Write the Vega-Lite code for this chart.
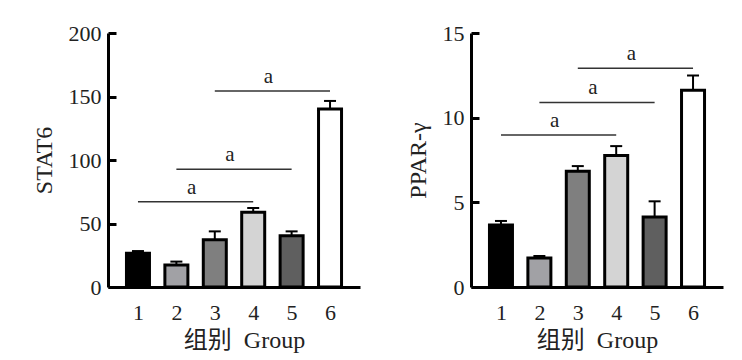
{
  "$schema": "https://vega.github.io/schema/vega-lite/v6.json",
  "background": "white",
  "padding": {"left": 32, "top": 22, "right": 5, "bottom": 5},
  "spacing": 46,
  "datasets": {
    "stat6": [
      {"group": 1, "mean": 26.5, "upper": 28.3},
      {"group": 2, "mean": 17.3, "upper": 20.0},
      {"group": 3, "mean": 37.2, "upper": 43.8},
      {"group": 4, "mean": 58.8, "upper": 62.2},
      {"group": 5, "mean": 40.4, "upper": 43.8},
      {"group": 6, "mean": 140.2, "upper": 146.5}
    ],
    "ppar": [
      {"group": 1, "mean": 3.66, "upper": 3.9},
      {"group": 2, "mean": 1.71, "upper": 1.83},
      {"group": 3, "mean": 6.84, "upper": 7.14},
      {"group": 4, "mean": 7.77, "upper": 8.32},
      {"group": 5, "mean": 4.13, "upper": 5.06},
      {"group": 6, "mean": 11.62, "upper": 12.49}
    ],
    "sigStat": [
      {"from": 1, "to": 4, "mid": 2.5, "y": 67.2, "label": "a"},
      {"from": 2, "to": 5, "mid": 3.5, "y": 92.7, "label": "a"},
      {"from": 3, "to": 6, "mid": 4.5, "y": 154.3, "label": "a"}
    ],
    "sigPpar": [
      {"from": 1, "to": 4, "mid": 2.5, "y": 8.97, "label": "a"},
      {"from": 2, "to": 5, "mid": 3.5, "y": 10.9, "label": "a"},
      {"from": 3, "to": 6, "mid": 4.5, "y": 12.92, "label": "a"}
    ]
  },
  "hconcat": [
    {
      "width": 252,
      "height": 254,
      "layer": [
        {
          "data": {"name": "stat6"},
          "mark": {"type": "rule", "strokeWidth": 2, "color": "black"},
          "encoding": {
            "x": {"field": "group", "type": "quantitative", "scale": {"domain": [0.35, 6.65], "nice": false, "zero": false},
              "axis": {"values": [1, 2, 3, 4, 5, 6], "ticks": false, "labelPadding": 15, "title": "组别\u00a0\u00a0Group", "titlePadding": 5, "titleX": 136}},
            "y": {"field": "mean", "type": "quantitative", "scale": {"domain": [0, 200], "nice": false},
              "axis": {"values": [0, 50, 100, 150, 200], "tickSize": -8, "labelPadding": 15, "title": "STAT6", "titlePadding": 12}},
            "y2": {"field": "upper"}
          }
        },
        {
          "data": {"name": "stat6"},
          "mark": {"type": "tick", "orient": "horizontal", "size": 12, "thickness": 2, "color": "black", "opacity": 1},
          "encoding": {
            "x": {"field": "group", "type": "quantitative"},
            "y": {"field": "upper", "type": "quantitative"}
          }
        },
        {
          "data": {"name": "stat6"},
          "mark": {"type": "bar", "width": 23, "stroke": "black", "strokeWidth": 3, "opacity": 1},
          "encoding": {
            "x": {"field": "group", "type": "quantitative"},
            "y": {"field": "mean", "type": "quantitative"},
            "fill": {"field": "group", "type": "nominal", "legend": null,
              "scale": {"domain": [1, 2, 3, 4, 5, 6], "range": ["#000000", "#a1a1a5", "#7f7f7f", "#d4d4d4", "#5f5f5f", "#ffffff"]}}
          }
        },
        {
          "data": {"name": "sigStat"},
          "mark": {"type": "rule", "strokeWidth": 1.5, "color": "#333333"},
          "encoding": {
            "x": {"field": "from", "type": "quantitative"},
            "x2": {"field": "to"},
            "y": {"field": "y", "type": "quantitative"}
          }
        },
        {
          "data": {"name": "sigStat"},
          "mark": {"type": "text", "font": "Liberation Serif", "fontSize": 21, "baseline": "alphabetic", "dy": -8, "dx": -4, "color": "#222222"},
          "encoding": {
            "x": {"field": "mid", "type": "quantitative"},
            "y": {"field": "y", "type": "quantitative"},
            "text": {"field": "label"}
          }
        }
      ]
    },
    {
      "width": 252,
      "height": 254,
      "layer": [
        {
          "data": {"name": "ppar"},
          "mark": {"type": "rule", "strokeWidth": 2, "color": "black"},
          "encoding": {
            "x": {"field": "group", "type": "quantitative", "scale": {"domain": [0.35, 6.65], "nice": false, "zero": false},
              "axis": {"values": [1, 2, 3, 4, 5, 6], "ticks": false, "labelPadding": 15, "title": "组别\u00a0\u00a0Group", "titlePadding": 5}},
            "y": {"field": "mean", "type": "quantitative", "scale": {"domain": [0, 15], "nice": false},
              "axis": {"values": [0, 5, 10, 15], "tickSize": -8, "labelPadding": 15, "title": "PPAR-γ", "titlePadding": 12}},
            "y2": {"field": "upper"}
          }
        },
        {
          "data": {"name": "ppar"},
          "mark": {"type": "tick", "orient": "horizontal", "size": 12, "thickness": 2, "color": "black", "opacity": 1},
          "encoding": {
            "x": {"field": "group", "type": "quantitative"},
            "y": {"field": "upper", "type": "quantitative"}
          }
        },
        {
          "data": {"name": "ppar"},
          "mark": {"type": "bar", "width": 23, "stroke": "black", "strokeWidth": 3, "opacity": 1},
          "encoding": {
            "x": {"field": "group", "type": "quantitative"},
            "y": {"field": "mean", "type": "quantitative"},
            "fill": {"field": "group", "type": "nominal", "legend": null,
              "scale": {"domain": [1, 2, 3, 4, 5, 6], "range": ["#000000", "#a1a1a5", "#7f7f7f", "#d4d4d4", "#5f5f5f", "#ffffff"]}}
          }
        },
        {
          "data": {"name": "sigPpar"},
          "mark": {"type": "rule", "strokeWidth": 1.5, "color": "#333333"},
          "encoding": {
            "x": {"field": "from", "type": "quantitative"},
            "x2": {"field": "to"},
            "y": {"field": "y", "type": "quantitative"}
          }
        },
        {
          "data": {"name": "sigPpar"},
          "mark": {"type": "text", "font": "Liberation Serif", "fontSize": 21, "baseline": "alphabetic", "dy": -8, "dx": -4, "color": "#222222"},
          "encoding": {
            "x": {"field": "mid", "type": "quantitative"},
            "y": {"field": "y", "type": "quantitative"},
            "text": {"field": "label"}
          }
        }
      ]
    }
  ],
  "resolve": {"scale": {"fill": "independent"}},
  "config": {
    "view": {"stroke": null},
    "axis": {
      "grid": false,
      "domainColor": "black",
      "domainWidth": 3,
      "tickColor": "black",
      "tickWidth": 3,
      "labelFont": "Liberation Serif",
      "labelFontSize": 22,
      "labelColor": "#222222",
      "titleFont": "Liberation Serif, Noto Sans CJK SC",
      "titleFontSize": 24,
      "titleFontWeight": "normal",
      "titleColor": "#222222"
    }
  }
}
